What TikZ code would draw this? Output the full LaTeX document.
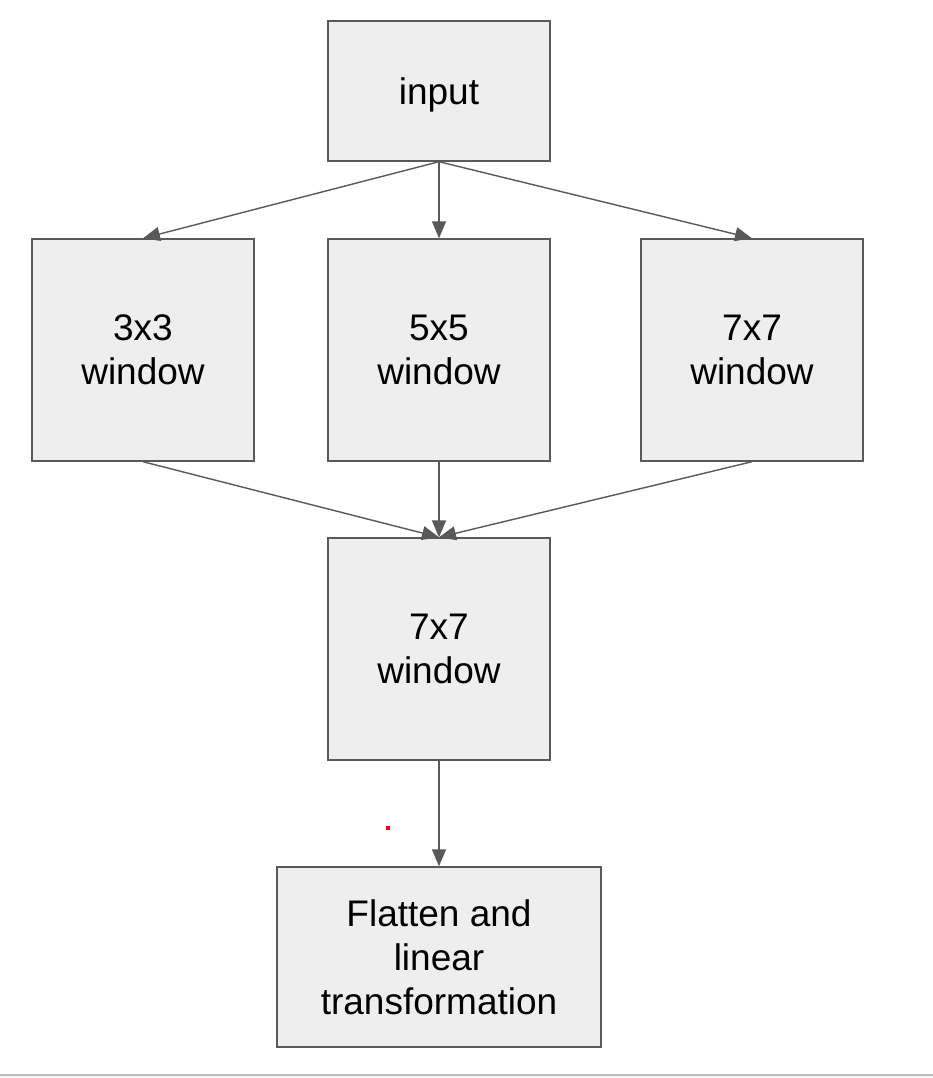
\documentclass[tikz,border=0pt]{standalone}
\usepackage{fontspec}
\setmainfont{Liberation Sans}
\usetikzlibrary{arrows.meta}
\definecolor{boxfill}{HTML}{EEEEEE}
\definecolor{boxline}{HTML}{595959}
\begin{document}
\begin{tikzpicture}[x=1pt,y=-1pt,
  blk/.style={draw=boxline,fill=boxfill,line width=1.4pt,minimum width=222pt,minimum height=222pt,
    align=center,inner sep=0pt,text depth=0pt,font=\fontsize{37}{44}\selectfont},
  conn/.style={draw=boxline,line width=1.4pt,-{Triangle[length=17pt,width=14pt]}}]
\useasboundingbox (0,0) rectangle (933,1078);
\fill[white] (0,0) rectangle (933,1078);
\fill[black!3] (0,1075) rectangle (933,1078);
\draw[black!25,line width=1.2pt] (0,1075) -- (933,1075);
\node[blk,minimum height=140pt] (in) at (439,91) {input};
\node[blk] (w3) at (143,350) {3x3\\window};
\node[blk] (w5) at (439,350) {5x5\\window};
\node[blk] (w7) at (752,350) {7x7\\window};
\node[blk] (m7) at (439,649) {7x7\\window};
\node[blk,minimum width=324pt,minimum height=180pt] (fl) at (439,957) {Flatten and\\linear\\transformation};
\draw[conn] (in.south) -- (w3.north);
\draw[conn] (in.south) -- (w5.north);
\draw[conn] (in.south) -- (w7.north);
\draw[conn] (w3.south) -- (m7.north);
\draw[conn] (w5.south) -- (m7.north);
\draw[conn] (w7.south) -- (m7.north);
\draw[conn] (m7.south) -- (fl.north);
\fill[red] (385.5,826) rectangle (389.5,830);
\end{tikzpicture}
\end{document}
